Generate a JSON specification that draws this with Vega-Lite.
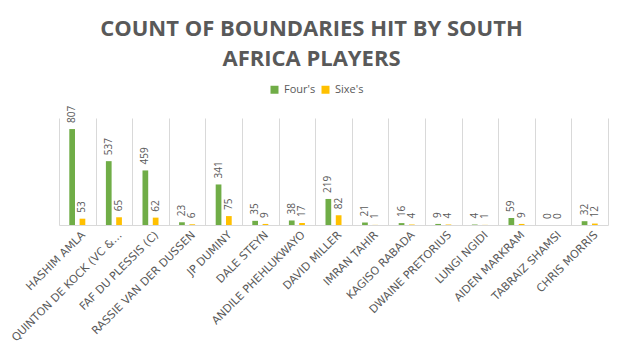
{
  "$schema": "https://vega.github.io/schema/vega-lite/v6.json",
  "width": 549,
  "height": 107,
  "autosize": {"type": "none"},
  "padding": {"left": 59, "top": 118, "right": 15, "bottom": 134},
  "background": "#ffffff",
  "config": {
    "view": {"stroke": null},
    "font": "Open Sans"
  },
  "title": {
    "text": ["COUNT OF BOUNDARIES HIT BY SOUTH", "AFRICA PLAYERS"],
    "anchor": "middle",
    "frame": "group",
    "dx": -22,
    "offset": 13,
    "font": "Open Sans",
    "fontSize": 22,
    "fontWeight": "bold",
    "color": "#595959",
    "lineHeight": 30
  },
  "data": {
    "values": [
      {"Player": "HASHIM AMLA", "Type": "Four's", "Count": 807},
      {"Player": "HASHIM AMLA", "Type": "Sixe's", "Count": 53},
      {"Player": "QUINTON DE KOCK (VC &…", "Type": "Four's", "Count": 537},
      {"Player": "QUINTON DE KOCK (VC &…", "Type": "Sixe's", "Count": 65},
      {"Player": "FAF DU PLESSIS (C)", "Type": "Four's", "Count": 459},
      {"Player": "FAF DU PLESSIS (C)", "Type": "Sixe's", "Count": 62},
      {"Player": "RASSIE VAN DER DUSSEN", "Type": "Four's", "Count": 23},
      {"Player": "RASSIE VAN DER DUSSEN", "Type": "Sixe's", "Count": 6},
      {"Player": "JP DUMINY", "Type": "Four's", "Count": 341},
      {"Player": "JP DUMINY", "Type": "Sixe's", "Count": 75},
      {"Player": "DALE STEYN", "Type": "Four's", "Count": 35},
      {"Player": "DALE STEYN", "Type": "Sixe's", "Count": 9},
      {"Player": "ANDILE PHEHLUKWAYO", "Type": "Four's", "Count": 38},
      {"Player": "ANDILE PHEHLUKWAYO", "Type": "Sixe's", "Count": 17},
      {"Player": "DAVID MILLER", "Type": "Four's", "Count": 219},
      {"Player": "DAVID MILLER", "Type": "Sixe's", "Count": 82},
      {"Player": "IMRAN TAHIR", "Type": "Four's", "Count": 21},
      {"Player": "IMRAN TAHIR", "Type": "Sixe's", "Count": 1},
      {"Player": "KAGISO RABADA", "Type": "Four's", "Count": 16},
      {"Player": "KAGISO RABADA", "Type": "Sixe's", "Count": 4},
      {"Player": "DWAINE PRETORIUS", "Type": "Four's", "Count": 9},
      {"Player": "DWAINE PRETORIUS", "Type": "Sixe's", "Count": 4},
      {"Player": "LUNGI NGIDI", "Type": "Four's", "Count": 4},
      {"Player": "LUNGI NGIDI", "Type": "Sixe's", "Count": 1},
      {"Player": "AIDEN MARKRAM", "Type": "Four's", "Count": 59},
      {"Player": "AIDEN MARKRAM", "Type": "Sixe's", "Count": 9},
      {"Player": "TABRAIZ SHAMSI", "Type": "Four's", "Count": 0},
      {"Player": "TABRAIZ SHAMSI", "Type": "Sixe's", "Count": 0},
      {"Player": "CHRIS MORRIS", "Type": "Four's", "Count": 32},
      {"Player": "CHRIS MORRIS", "Type": "Sixe's", "Count": 12}
    ]
  },
  "encoding": {
    "x": {
      "field": "Player",
      "type": "nominal",
      "sort": null,
      "scale": {"paddingInner": 0, "paddingOuter": 0},
      "axis": {
        "title": null,
        "tickBand": "extent",
        "grid": true,
        "gridColor": "#d9d9d9",
        "gridWidth": 1,
        "ticks": false,
        "domainColor": "#d9d9d9",
        "domainWidth": 1,
        "labelAngle": -45,
        "labelAlign": "right",
        "labelBaseline": "middle",
        "labelFont": "DejaVu Sans",
        "labelFontSize": 11,
        "labelColor": "#595959",
        "labelPadding": 8,
        "labelOffset": 6,
        "labelLimit": 250
      }
    },
    "xOffset": {
      "field": "Type",
      "type": "nominal",
      "scale": {"paddingInner": 0.444, "paddingOuter": 1.256}
    },
    "y": {
      "field": "Count",
      "type": "quantitative",
      "scale": {"domain": [0, 900]},
      "axis": null
    }
  },
  "layer": [
    {
      "mark": {"type": "bar"},
      "encoding": {
        "color": {
          "field": "Type",
          "type": "nominal",
          "scale": {"domain": ["Four's", "Sixe's"], "range": ["#70AD47", "#FFC000"]},
          "legend": {
            "title": null,
            "orient": "none",
            "direction": "horizontal",
            "legendX": 210,
            "legendY": -34,
            "symbolType": "square",
            "symbolSize": 64,
            "symbolStrokeWidth": 0,
            "symbolOpacity": 1,
            "labelFont": "Open Sans",
            "labelFontSize": 11,
            "labelColor": "#595959",
            "labelOffset": 4,
            "columnPadding": 4
          }
        }
      }
    },
    {
      "mark": {
        "type": "text",
        "angle": 270,
        "align": "left",
        "baseline": "middle",
        "dx": 6,
        "font": "Open Sans",
        "fontSize": 10,
        "color": "#595959"
      },
      "encoding": {
        "text": {"field": "Count", "type": "quantitative"}
      }
    }
  ]
}
